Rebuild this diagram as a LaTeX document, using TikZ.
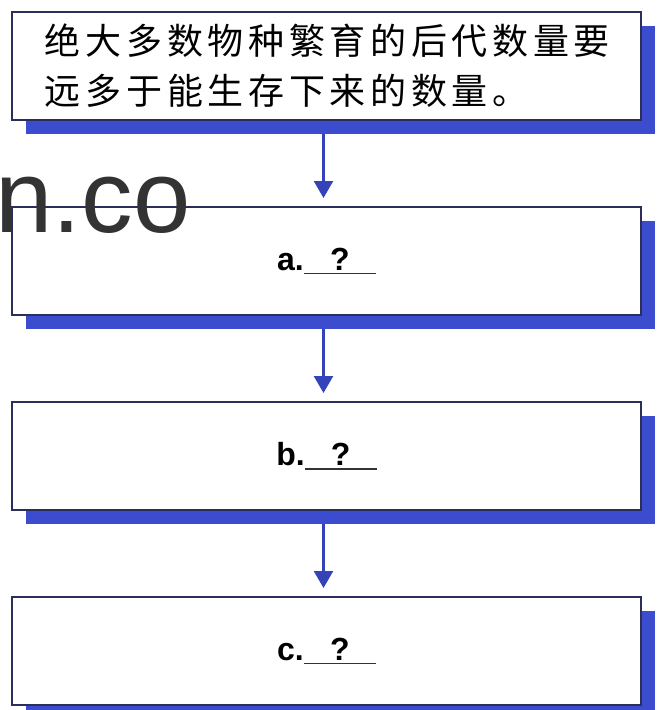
\documentclass[tikz,border=0pt]{standalone}
\usepackage{fontspec}
\setmainfont{Liberation Sans}
\newfontfamily\cjk[LetterSpace=13]{Noto Sans CJK SC}
\usepackage{xcolor}
\usepackage{tikz}
\usetikzlibrary{arrows.meta,positioning,shadows}
\definecolor{ShadowBlue}{HTML}{3B4CCF}
\definecolor{FrameNavy}{HTML}{2B2E5A}
\definecolor{ArrowBlue}{HTML}{3444B8}
\definecolor{MarkGray}{HTML}{333333}
\newcommand{\askline}[1]{\textbf{#1}\makebox[0pt][l]{\textcolor{black!80}{\rule[-4pt]{72pt}{1.4pt}}}\makebox[72pt]{\textbf{?}}}

\begin{document}
\begin{tikzpicture}[
  x=1pt,y=1pt,
  node distance=87pt,
  box/.style={draw=FrameNavy,line width=1.3pt,fill=white,minimum width=629pt,minimum height=108pt,
    inner sep=0pt,outer sep=0pt,
    drop shadow={shadow xshift=14pt,shadow yshift=-14pt,fill=ShadowBlue,opacity=1}},
  askbox/.style={box,font=\fontsize{32pt}{38pt}\selectfont},
  arrow/.style={-{Triangle[width=19pt,length=17pt]},line width=2.5pt,ArrowBlue,shorten <=14pt,shorten >=9pt}
]
  \useasboundingbox (0,0) rectangle (657,-710);
  \node[box,text width=563pt,inner xsep=33pt,align=left,font=\fontsize{36pt}{50pt}\selectfont\cjk] (fact) at (326.5,-66)
    {绝大多数物种繁育的后代数量要\\远多于能生存下来的数量。};
  \node[askbox,below=of fact] (stepa) {\askline{a.}};
  \node[askbox,below=of stepa] (stepb) {\askline{b.}};
  \node[askbox,below=of stepb] (stepc) {\askline{c.}};
  \draw[arrow] ([xshift=-3pt]fact.south) -- ([xshift=-3pt]stepa.north);
  \draw[arrow] ([xshift=-3pt]stepa.south) -- ([xshift=-3pt]stepb.north);
  \draw[arrow] ([xshift=-3pt]stepb.south) -- ([xshift=-3pt]stepc.north);
  \node[anchor=base west,inner sep=0pt,text=MarkGray,font=\fontsize{103pt}{103pt}\selectfont] (mark) at (-4.5,-232) {n.co};
\end{tikzpicture}
\end{document}
